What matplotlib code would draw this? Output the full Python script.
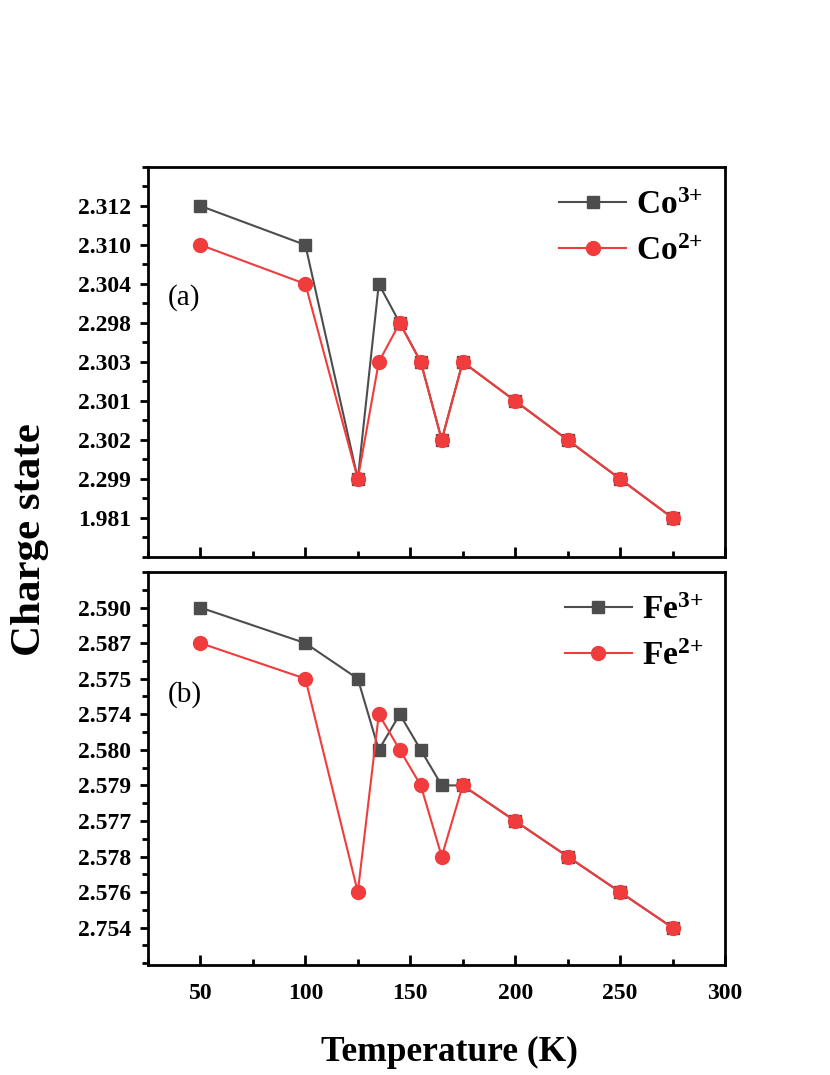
import matplotlib.pyplot as plt
from matplotlib.ticker import MultipleLocator

plt.rcParams['font.family'] = ['Liberation Serif', 'DejaVu Serif']
plt.rcParams['mathtext.fontset'] = 'custom'
plt.rcParams['mathtext.rm'] = 'Liberation Serif'
plt.rcParams['mathtext.bf'] = 'Liberation Serif:bold'

temps = [50, 100, 125, 135, 145, 155, 165, 175, 200, 225, 250, 275]

# panel (a): tick labels top to bottom, series given as tick labels
co_ticks = ['2.312', '2.310', '2.304', '2.298', '2.303', '2.301', '2.302', '2.299', '1.981']
co3 = ['2.312', '2.310', '2.299', '2.304', '2.298', '2.303', '2.302', '2.303', '2.301', '2.302', '2.299', '1.981']
co2 = ['2.310', '2.304', '2.299', '2.303', '2.298', '2.303', '2.302', '2.303', '2.301', '2.302', '2.299', '1.981']

# panel (b)
fe_ticks = ['2.590', '2.587', '2.575', '2.574', '2.580', '2.579', '2.577', '2.578', '2.576', '2.754']
fe3 = ['2.590', '2.587', '2.575', '2.580', '2.574', '2.580', '2.579', '2.579', '2.577', '2.578', '2.576', '2.754']
fe2 = ['2.587', '2.575', '2.576', '2.574', '2.580', '2.579', '2.578', '2.579', '2.577', '2.578', '2.576', '2.754']

gray = '#4d4d4d'
red = '#f03c3c'

fig = plt.figure(figsize=(8.3, 10.75), dpi=100)
ax1 = fig.add_axes([0.1783, 0.4819, 0.6952, 0.3628])
ax2 = fig.add_axes([0.1783, 0.1023, 0.6952, 0.3656])


def panel(ax, ticks, s3, s2, lab3, lab2, tag, tag_y, ybot, show_x):
    pos = {t: i for i, t in enumerate(ticks)}
    ax.plot(temps, [pos[v] for v in s3], color=gray, marker='s', ms=9, lw=1.5,
            label=lab3, zorder=3)
    ax.plot(temps, [pos[v] for v in s2], color=red, marker='o', ms=10, lw=1.5,
            label=lab2, zorder=4)
    ax.set_xlim(25, 300)
    ax.set_ylim(ybot, -1)
    ax.set_yticks(range(len(ticks)))
    ax.set_yticklabels(ticks)
    ax.yaxis.set_minor_locator(MultipleLocator(0.5))
    ax.xaxis.set_major_locator(MultipleLocator(50))
    ax.xaxis.set_minor_locator(MultipleLocator(25))
    ax.tick_params(axis='y', which='major', direction='out', length=6, width=2,
                   labelsize=17, pad=6)
    ax.tick_params(axis='y', which='minor', direction='out', length=4, width=2)
    ax.tick_params(axis='x', which='major', direction='in', length=7, width=2,
                   labelsize=17, pad=13, labelbottom=show_x)
    ax.tick_params(axis='x', which='minor', direction='in', length=4, width=2)
    for lb in ax.get_xticklabels() + ax.get_yticklabels():
        lb.set_fontweight('bold')
    for sp in ax.spines.values():
        sp.set_linewidth(2)
    ax.text(0.035, tag_y, tag, transform=ax.transAxes, fontsize=21, va='center')
    ax.legend(loc='upper right', frameon=False, handlelength=2.0,
              handletextpad=0.3, borderaxespad=0.0, labelspacing=0.45,
              bbox_to_anchor=(0.985, 0.975),
              prop={'weight': 'bold', 'size': 24})


panel(ax1, co_ticks, co3, co2, r'$\mathbf{Co^{3{+}}}$', r'$\mathbf{Co^{2{+}}}$',
      '(a)', 0.664, 9, False)
panel(ax2, fe_ticks, fe3, fe2, r'$\mathbf{Fe^{3{+}}}$', r'$\mathbf{Fe^{2{+}}}$',
      '(b)', 0.687, 10.05, True)

fig.text(0.036, 0.498, 'Charge state', rotation=90, ha='center', va='center',
         fontsize=31, fontweight='bold')
fig.text(0.542, 0.0205, 'Temperature (K)', ha='center', va='center',
         fontsize=25.5, fontweight='bold')

fig.savefig('out.png', dpi=100)
